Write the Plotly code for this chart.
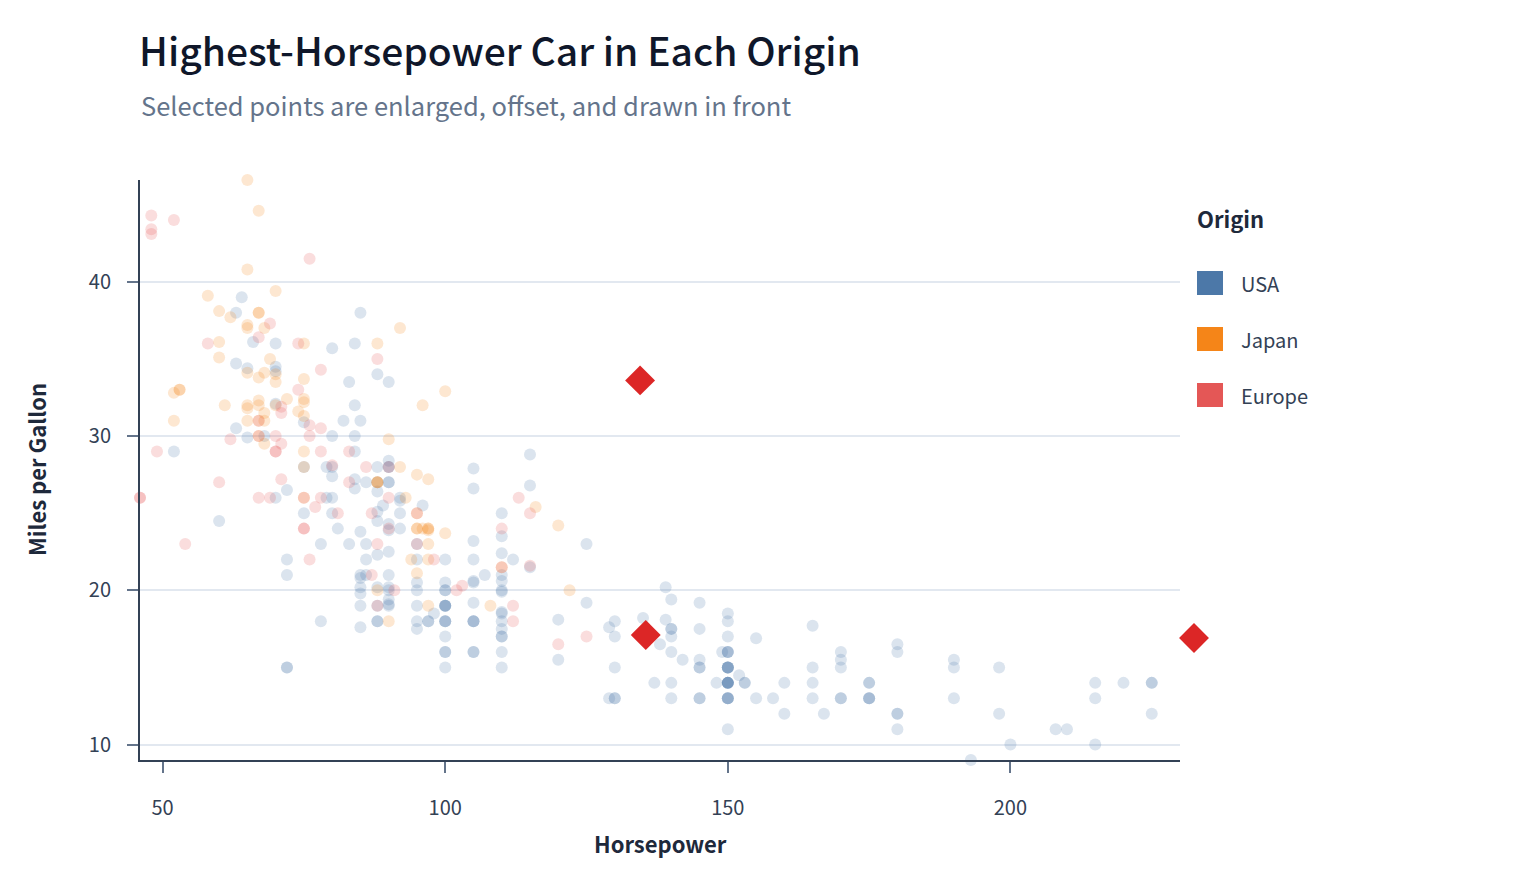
import plotly.graph_objects as go

# ---------------- data (cars dataset: horsepower, miles per gallon) ----------------
usa_hp = [130,165,150,150,140,198,220,215,225,190,170,160,150,225,95,97,85,90,215,200,210,193,90,100,105,100,88,100,165,175,153,150,180,170,175,110,72,100,88,86,70,80,90,86,165,175,150,153,150,208,155,160,190,150,130,140,150,86,80,175,150,145,137,150,198,150,158,150,215,225,175,105,100,100,88,95,150,167,170,180,100,72,85,107,145,230,150,180,95,100,100,80,75,100,110,105,140,150,150,140,150,75,95,105,72,72,170,145,150,148,110,105,110,95,110,110,129,83,100,78,97,90,92,79,140,150,120,152,100,105,81,90,52,60,100,78,110,95,72,150,180,145,130,150,80,96,145,110,145,130,110,105,100,98,180,170,190,149,88,89,63,83,66,110,140,139,105,95,85,88,100,90,105,85,110,120,145,165,139,140,68,75,105,85,115,85,88,90,110,130,129,138,135,155,142,125,150,80,80,125,90,70,70,90,115,115,90,70,90,88,90,90,105,84,84,92,110,84,64,63,65,65,110,105,88,85,88,88,88,85,84,90,92,63,70,110,85,92,112,84,90,86,84,79,82]
usa_mpg = [18,15,18,16,17,15,14,14,14,15,15,14,15,14,22,18,21,21,10,10,11,9,28,19,16,17,19,18,14,14,14,14,12,13,13,18,22,19,18,23,26,25,20,21,13,14,15,14,17,11,13,12,13,15,13,13,14,22,28,13,14,13,14,15,12,13,13,14,13,12,13,18,16,18,18,23,11,12,13,12,18,21,19,21,15,16,15,11,20,19,15,26,25,16,16,18,16,13,14,14,14,28,19,18,15,15,16,15,16,14,17,16,15,18,21,20,13,23,20,23,18,19,25,26,17.5,16,15.5,14.5,22,22,24,22.5,29,24.5,20,18,18.5,17.5,26.5,13,16.5,13,13,13,30,25.5,17.5,17,15.5,15,17.5,20.5,19,18.5,16,15.5,15.5,16,24.5,25.5,30.5,33.5,36.1,19.9,19.4,20.2,19.2,20.5,20.2,25.1,20.5,19.4,20.6,20.8,18.6,18.1,19.2,17.7,18.1,17.5,30,30.9,23.2,23.8,21.5,19.8,22.3,20.2,20.6,17,17.6,16.5,18.2,16.9,15.5,19.2,18.5,35.7,27.4,23,23.9,34.2,34.5,28.4,28.8,26.8,33.5,32.1,28,26.4,24.3,19.1,27.9,27.2,26.6,25.8,23.5,30,39,34.7,34.4,29.9,22.4,26.6,20.2,17.6,28,27,34,31,29,27,24,38,36,25,38,26,22,36,27,27,32,28,31]

japan_hp = [95,88,88,95,65,69,95,97,92,97,88,88,94,90,122,67,65,52,61,97,93,75,96,97,53,53,70,75,108,68,70,75,67,97,110,52,70,60,95,97,95,97,68,65,65,60,65,90,75,92,75,65,65,67,67,132,100,72,58,60,67,65,62,68,75,75,100,74,116,120,68,68,88,75,70,67,67,67,96]
japan_mpg = [24,27,27,25,31,35,24,19,28,23,27,20,22,18,20,31,32,31,32,24,26,29,24,24,33,33,32,28,19,31.5,33.5,26,30,22,21.5,32.8,39.4,36.1,27.5,27.2,21.1,23.9,29.5,34.1,31.8,38.1,37.2,29.8,31.3,37,32.2,46.6,40.8,44.6,33.8,32.7,23.7,32.4,39.1,35.1,32.3,37,37.7,34.1,33.7,32.4,32.9,31.6,25.4,24.2,37,31,36,36,34,38,32,38,32]

europe_hp = [46,87,90,95,113,90,70,76,60,54,112,76,87,69,90,49,75,91,112,110,83,67,78,75,75,67,46,70,95,88,98,115,86,81,83,70,71,102,88,120,58,78,78,110,48,103,125,115,133,71,71,77,71,69,76,78,48,48,67,67,62,88,74,80,76,74,52]
europe_mpg = [26,25,24,25,26,28,30,30,27,23,18,22,21,26,26,29,24,20,19,24,29,26,26,24,26,31,26,29,23,23,22,25,28,25,27,29,29.5,20,19,16.5,36,29,30.5,21.5,43.1,20.3,17,21.6,16.2,31.5,31.9,25.4,27.2,37.3,41.5,34.3,44.3,43.4,36.4,30,29.8,35,33,28.1,30.7,36,44]

origins = ["USA", "Japan", "Europe"]
colors = {"USA": "#4c78a8", "Japan": "#f58518", "Europe": "#e45756"}
series = {
    "USA": (usa_hp, usa_mpg),
    "Japan": (japan_hp, japan_mpg),
    "Europe": (europe_hp, europe_mpg),
}

x_tick_vals = [50, 100, 150, 200]
y_tick_vals = [10, 20, 30, 40]

# ---------------- layout geometry ----------------
W, H = 1520, 880
ML, MT, MB = 140, 180, 120
PLOT_R = 1180          # right edge of the axis area (px)
EXT_R = 1260           # right edge of the overlay area used for the offset marks (px)
MR = W - EXT_R
PW_EXT = EXT_R - ML
PW = PLOT_R - ML
PH = H - MT - MB
dom_frac = PW / PW_EXT

all_hp = usa_hp + japan_hp + europe_hp
all_mpg = usa_mpg + japan_mpg + europe_mpg
x_range = [min(all_hp), max(all_hp)]
y_range = [min(all_mpg), max(all_mpg)]
x_range_ext = [x_range[0], x_range[0] + (x_range[1] - x_range[0]) / dom_frac]

# selection offset (pixels -> data units)
OFF_PX = 14
dx = OFF_PX * (x_range[1] - x_range[0]) / PW
dy = OFF_PX * (y_range[1] - y_range[0]) / PH

fig = go.Figure()

sel_x, sel_y = [], []
for o in origins:
    hp, mpg = series[o]
    i_max = max(range(len(hp)), key=lambda i: hp[i])
    bx = [h for i, h in enumerate(hp) if i != i_max]
    by = [m for i, m in enumerate(mpg) if i != i_max]
    fig.add_trace(go.Scatter(
        x=bx, y=by, mode="markers", name=o, showlegend=False, cliponaxis=False,
        marker=dict(size=12, color=colors[o], opacity=0.2, line=dict(width=0)),
        hoverinfo="x+y+name",
    ))
    sel_x.append(hp[i_max] + dx)
    sel_y.append(mpg[i_max] + dy)

fig.add_trace(go.Scatter(
    x=sel_x, y=sel_y, mode="markers", showlegend=False, cliponaxis=False,
    xaxis="x2", yaxis="y2",
    marker=dict(symbol="diamond", size=23, color="#dc2626", line=dict(width=0)),
))

FONT = "Noto Sans CJK KR, Noto Sans, sans-serif"


def px_x(p):
    return (p - ML) / PW_EXT


def px_y(p):
    return (H - MB - p) / PH


annotations = [
    dict(text="Selected points are enlarged, offset, and drawn in front",
         xref="paper", yref="paper", x=px_x(139), y=px_y(105), xanchor="left", yanchor="middle",
         showarrow=False, font=dict(family=FONT, size=25.5, color="#64748b")),
    dict(text="<b>Horsepower</b>", xref="paper", yref="paper", x=px_x(660), y=px_y(843),
         xanchor="center", yanchor="middle", showarrow=False,
         font=dict(family=FONT, size=22, color="#1e293b")),
    dict(text="<b>Miles per Gallon</b>", xref="paper", yref="paper", x=px_x(36), y=px_y(470),
         xanchor="center", yanchor="middle", showarrow=False, textangle=-90,
         font=dict(family=FONT, size=22, color="#1e293b")),
    dict(text="<b>Origin</b>", xref="paper", yref="paper", x=px_x(1195), y=px_y(218),
         xanchor="left", yanchor="middle", showarrow=False,
         font=dict(family=FONT, size=22, color="#1e293b")),
]
shapes = []
leg_y = [283, 339, 395]
for o, ly in zip(origins, leg_y):
    shapes.append(dict(type="rect", xref="paper", yref="paper",
                       x0=px_x(1197), x1=px_x(1223), y0=px_y(ly - 12), y1=px_y(ly + 12),
                       fillcolor=colors[o], line=dict(width=0)))
    annotations.append(dict(text=o, xref="paper", yref="paper", x=px_x(1239), y=px_y(ly),
                            xanchor="left", yanchor="middle", showarrow=False,
                            font=dict(family=FONT, size=20, color="#334155")))

fig.update_layout(
    width=W, height=H,
    margin=dict(l=ML, r=MR, t=MT, b=MB),
    paper_bgcolor="white", plot_bgcolor="rgba(0,0,0,0)",
    font=dict(family=FONT, color="#334155"),
    title=dict(text="Highest-Horsepower Car in Each Origin", xref="container", yref="container",
               x=139 / W, xanchor="left", y=1 - 52 / H, yanchor="middle",
               font=dict(family=FONT, size=39, color="#0f172a", weight=500)),
    annotations=annotations, shapes=shapes,
    xaxis=dict(domain=[0, dom_frac], range=x_range, showgrid=False, zeroline=False, showline=True,
               linecolor="#334155", linewidth=2, ticks="outside", ticklen=11, tickwidth=1.5,
               tickcolor="#64748b", tickvals=x_tick_vals, ticklabelstandoff=18,
               tickfont=dict(family=FONT, size=20, color="#334155")),
    yaxis=dict(range=y_range, showgrid=True, gridcolor="#e2e8f0", gridwidth=1.5, zeroline=False,
               showline=True, linecolor="#334155", linewidth=2, ticks="outside", ticklen=11,
               tickwidth=1.5, tickcolor="#64748b", tickvals=y_tick_vals, ticklabelstandoff=12,
               tickfont=dict(family=FONT, size=20, color="#334155")),
    xaxis2=dict(domain=[0, 1], range=x_range_ext, anchor="y2", visible=False, fixedrange=True,
                showgrid=False),
    yaxis2=dict(range=y_range, anchor="x2", visible=False, fixedrange=True, showgrid=False),
    showlegend=False,
)

fig.write_html("out.html")
